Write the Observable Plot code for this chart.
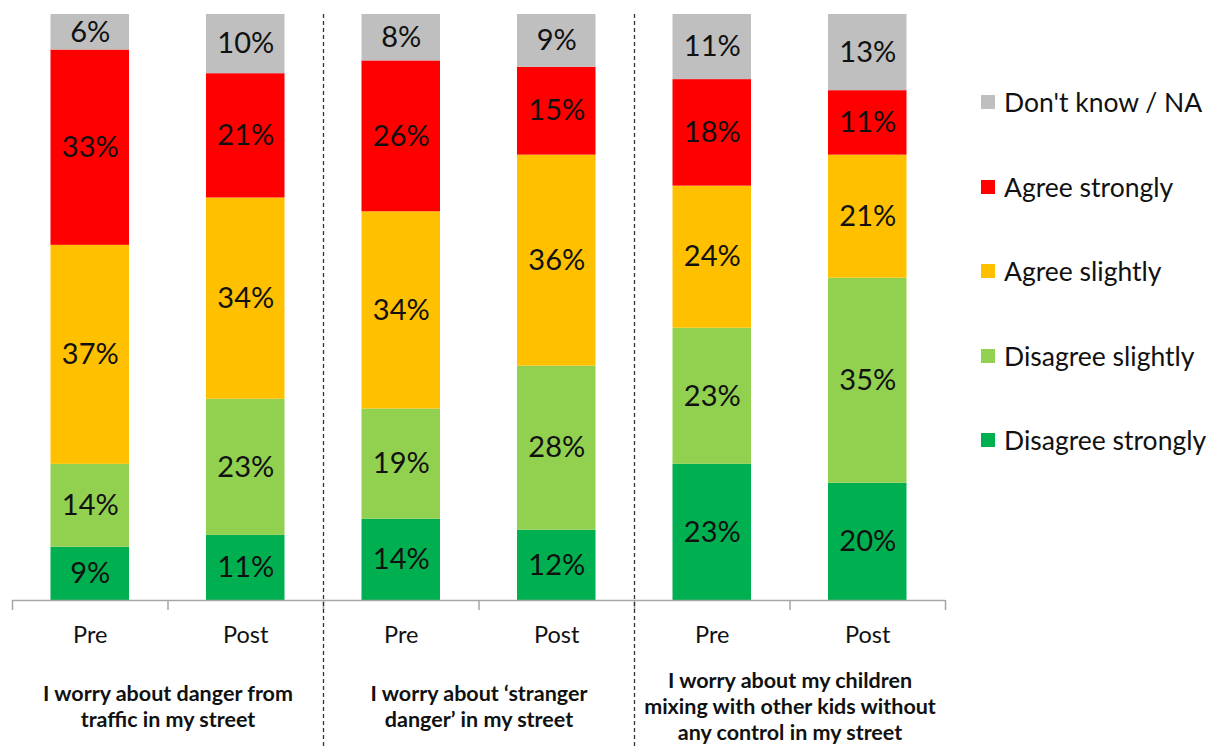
<!DOCTYPE html>
<html><head><meta charset="utf-8">
<script src="https://cdn.jsdelivr.net/npm/d3@7"></script>
<script src="https://cdn.jsdelivr.net/npm/@observablehq/plot@0.6"></script>
<style>
body{margin:0;background:#fff;font-family:Lato,sans-serif}
#wrap{position:relative;width:1208px;height:747px;overflow:hidden}
#legend{position:absolute;left:981px;top:0}
.item{position:absolute;left:0;display:flex;align-items:center;white-space:nowrap;font-size:26.5px;color:#111;transform:translateY(-50%)}
.sw{width:14px;height:14px;margin-right:9px;flex:none}
</style></head><body><div id="wrap"><div id="chart"></div><div id="legend"></div></div>
<script>
const periods = ["Pre", "Post"];
const groups = [
  "I worry about danger from\ntraffic in my street",
  "I worry about \u2018stranger\ndanger\u2019 in my street",
  "I worry about my children\nmixing with other kids without\nany control in my street"
];
const series = ["Disagree strongly", "Disagree slightly", "Agree slightly", "Agree strongly", "Don't know / NA"];
const colors = ["#00B050", "#92D050", "#FFC000", "#FF0000", "#BFBFBF"];
// values per bar: G1 Pre, G1 Post, G2 Pre, G2 Post, G3 Pre, G3 Post
const disagreeStrongly = [9, 11, 14, 12, 23, 20];
const disagreeSlightly = [14, 23, 19, 28, 23, 35];
const agreeSlightly   = [37, 34, 34, 36, 24, 21];
const agreeStrongly   = [33, 21, 26, 15, 18, 11];
const dontKnow        = [6, 10, 8, 9, 11, 13];
const seriesValues = [disagreeStrongly, disagreeSlightly, agreeSlightly, agreeStrongly, dontKnow];

const barMeta = [];
groups.forEach((g, gi) => periods.forEach((p, pi) => barMeta.push({i: gi * 2 + pi, group: g, period: p})));
const bars = [];
barMeta.forEach(b => series.forEach((s, si) => bars.push({...b, series: s, value: seriesValues[si][b.i]})));
const groupMeta = groups.map((g, gi) => ({g, c: gi * 2 + 1}));

const chart = Plot.plot({
  width: 1208, height: 747,
  marginLeft: 12, marginRight: 263, marginTop: 14, marginBottom: 147,
  x: {type: "linear", domain: [0, 6], axis: null},
  y: {domain: [0, 1], axis: null},
  color: {domain: series, range: colors},
  style: {fontFamily: "Lato, sans-serif", background: "white", color: "#111"},
  marks: [
    Plot.rectY(bars, Plot.stackY({
      x: "i", x1: "i", x2: d => d.i + 1, y: "value", z: "series", fill: "series",
      order: series, offset: "normalize", insetLeft: 38.5, insetRight: 38.5
    })),
    Plot.text(bars, Plot.stackY({
      x: d => d.i + 0.5, y: "value", z: "series", order: series, offset: "normalize",
      text: d => d.value + "%", fontSize: 29, fill: "#111"
    })),
    Plot.ruleY([0], {stroke: "#a6a6a6", strokeWidth: 1.5}),
    Plot.axisX(d3.range(7), {tickSize: 10, tickFormat: () => "", stroke: "#a6a6a6", strokeWidth: 1.5}),
    Plot.text(barMeta, {x: d => d.i + 0.5, frameAnchor: "bottom", dy: 42, text: "period", fontSize: 23.5, fill: "#111"}),
    Plot.text(groupMeta, {x: "c", frameAnchor: "bottom", dy: 105, lineAnchor: "middle", text: "g",
      fontWeight: "bold", fontSize: 21.5, lineHeight: 1.22, fill: "#111"}),
    Plot.ruleX([2, 4], {stroke: "#333", strokeWidth: 1.3, strokeDasharray: "4,3", insetBottom: -147})
  ]
});
document.getElementById("chart").appendChild(chart);

const legend = document.getElementById("legend");
[...series].reverse().forEach((s, k) => {
  const item = document.createElement("div");
  item.className = "item";
  item.style.top = (102 + 84.5 * k) + "px";
  const sw = document.createElement("span");
  sw.className = "sw";
  sw.style.background = colors[series.indexOf(s)];
  const lab = document.createElement("span");
  lab.textContent = s;
  item.appendChild(sw); item.appendChild(lab);
  legend.appendChild(item);
});
</script></body></html>
